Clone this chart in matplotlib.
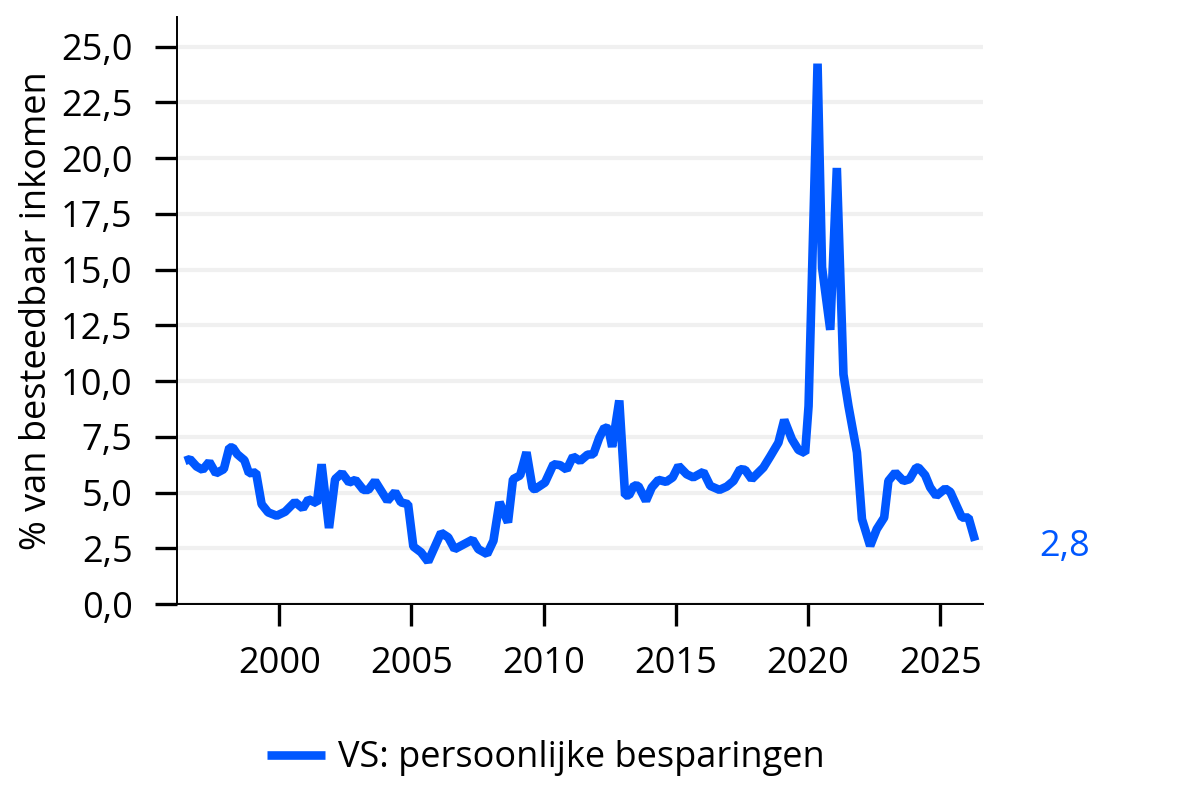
import matplotlib
matplotlib.use("Agg")
from matplotlib import pyplot as plt
from matplotlib.ticker import FuncFormatter

# VS persoonlijke besparingen, % van besteedbaar inkomen
years = [1996.43, 1996.62, 1996.87, 1997.10, 1997.35, 1997.60, 1997.90, 1998.11, 1998.24, 1998.41,
         1998.68, 1998.85, 1999.12, 1999.33, 1999.58, 1999.90, 2000.22, 2000.59, 2000.89, 2001.10,
         2001.42, 2001.60, 2001.88, 2002.11, 2002.37, 2002.64, 2002.88, 2003.18, 2003.37, 2003.62,
         2004.09, 2004.38, 2004.60, 2004.87, 2005.07, 2005.36, 2005.63, 2006.12, 2006.39, 2006.63,
         2007.31, 2007.53, 2007.86, 2008.10, 2008.33, 2008.65, 2008.84, 2009.11, 2009.35, 2009.58,
         2009.67, 2010.05, 2010.37, 2010.62, 2010.87, 2011.11, 2011.38, 2011.66, 2011.88, 2012.10,
         2012.30, 2012.45, 2012.59, 2012.86, 2013.08, 2013.23, 2013.42, 2013.58, 2013.87, 2014.09,
         2014.34, 2014.63, 2014.88, 2015.10, 2015.41, 2015.66, 2016.04, 2016.30, 2016.65, 2016.93,
         2017.18, 2017.43, 2017.62, 2017.87, 2018.31, 2018.57, 2018.88, 2019.10, 2019.39, 2019.64,
         2019.89, 2020.02, 2020.36, 2020.53, 2020.84, 2021.09, 2021.34, 2021.53, 2021.85, 2022.04,
         2022.35, 2022.60, 2022.88, 2023.04, 2023.30, 2023.61, 2023.84, 2024.09, 2024.18, 2024.43,
         2024.62, 2024.85, 2025.19, 2025.38, 2025.82, 2026.07, 2026.32]
savings = [6.42, 6.50, 6.17, 6.02, 6.38, 5.86, 6.05, 7.02, 7.02, 6.72,
           6.45, 5.87, 5.90, 4.48, 4.11, 3.96, 4.14, 4.58, 4.29, 4.70,
           4.52, 6.27, 3.41, 5.60, 5.88, 5.45, 5.57, 5.12, 5.12, 5.52,
           4.63, 5.03, 4.56, 4.48, 2.58, 2.32, 1.90, 3.20, 2.99, 2.46,
           2.89, 2.46, 2.24, 2.84, 4.57, 3.66, 5.60, 5.77, 6.81, 5.19,
           5.15, 5.45, 6.27, 6.23, 6.03, 6.62, 6.42, 6.70, 6.72, 7.45,
           7.92, 7.87, 7.05, 9.13, 4.87, 4.88, 5.32, 5.30, 4.63, 5.23,
           5.57, 5.48, 5.68, 6.20, 5.82, 5.68, 5.93, 5.30, 5.12, 5.27,
           5.52, 6.05, 6.02, 5.60, 6.12, 6.62, 7.24, 8.26, 7.39, 6.91,
           6.77, 8.88, 24.24, 15.10, 12.30, 19.56, 10.30, 8.88, 6.80, 3.81,
           2.61, 3.36, 3.88, 5.52, 5.90, 5.52, 5.60, 6.12, 6.12, 5.78,
           5.23, 4.85, 5.18, 5.03, 3.88, 3.88, 2.84]
y_ticks = [0, 2.5, 5, 7.5, 10, 12.5, 15, 17.5, 20, 22.5, 25]
x_ticks = [2000, 2005, 2010, 2015, 2020, 2025]
last_label = "2,8"

blue = "#0057ff"
plt.rcParams["font.family"] = ["Open Sans", "DejaVu Sans"]

fig = plt.figure(figsize=(12, 7.9), dpi=100)
ax = fig.add_axes([0.1475, 0.2354, 0.6717, 0.7436])

for t in y_ticks:
    ax.axhline(t, color="#f0f0f0", lw=3, zorder=0)

ax.plot(years, savings, color=blue, lw=6.2, solid_joinstyle="bevel",
        solid_capstyle="butt", label="VS: persoonlijke besparingen", zorder=3)

ax.set_xlim(1996.13, 2026.62)
ax.set_ylim(0, 26.35)
ax.set_yticks(y_ticks)
ax.set_xticks(x_ticks)
ax.yaxis.set_major_formatter(FuncFormatter(lambda v, p: ("%.1f" % v).replace(".", ",")))

for s in ["top", "right"]:
    ax.spines[s].set_visible(False)
for s in ["left", "bottom"]:
    ax.spines[s].set_linewidth(1.4)
ax.tick_params(axis="both", length=16, width=2.4, labelsize=26)
ax.tick_params(axis="y", pad=16)
ax.tick_params(axis="x", pad=14)

ax.set_ylabel("% van besteedbaar inkomen", fontsize=26, labelpad=4)

# the end label sits a little below the last point
ax.text(1.07, savings[-1] - 0.3, last_label, transform=ax.get_yaxis_transform(),
        color=blue, fontsize=26, va="center", ha="left", clip_on=False)

fig.legend(loc="center", bbox_to_anchor=(0.455, 0.04), frameon=False, fontsize=26,
           handlelength=1.6, handletextpad=0.35)

fig.savefig("out.png", dpi=100)
